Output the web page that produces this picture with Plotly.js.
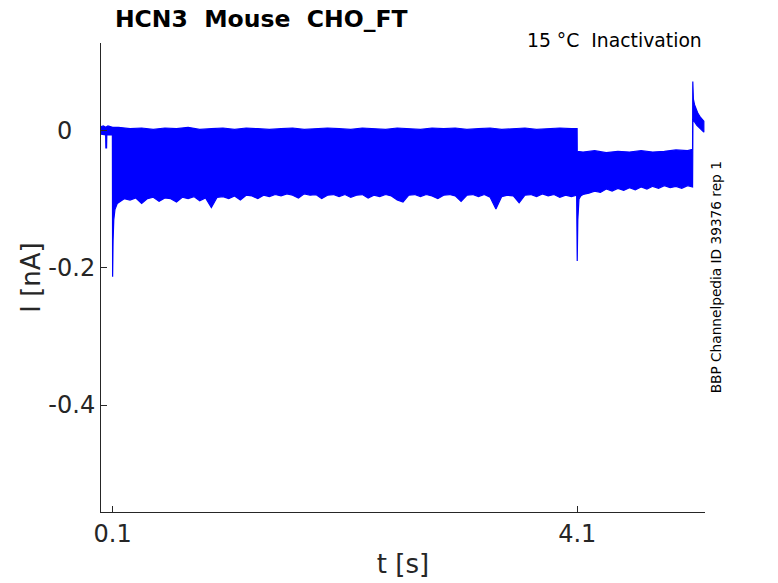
<!DOCTYPE html>
<html>
<head>
<meta charset="utf-8">
<script src="https://cdn.plot.ly/plotly-3.0.1.min.js"></script>
<style>
  html, body { margin: 0; padding: 0; background: #fff; }
  #plot { width: 778px; height: 583px; }
</style>
</head>
<body>
<div id="plot"></div>
<script>
    // --- DATA: envelope of all sweeps ---
    // upper edge of the sweep bundle (time in s, current in nA)
    const tUpper = [0.000, 0.020, 0.040, 0.060, 0.080, 0.100,
        0.15, 0.25, 0.35, 0.45, 0.55, 0.65, 0.75, 0.85, 0.95, 1.05,
        1.15, 1.25, 1.35, 1.45, 1.55, 1.65, 1.75, 1.85, 1.95, 2.05,
        2.15, 2.25, 2.35, 2.45, 2.55, 2.65, 2.75, 2.85, 2.95, 3.05,
        3.15, 3.25, 3.35, 3.45, 3.55, 3.65, 3.75, 3.85, 3.95, 4.05, 4.099,
        4.100, 4.15, 4.25, 4.35, 4.45, 4.55, 4.65, 4.75, 4.85, 4.95, 5.05, 5.093,
        5.095, 5.100, 5.110, 5.125, 5.140, 5.160, 5.180, 5.190];
    const iUpper = [0.006, 0.007, 0.005, 0.007, 0.006, 0.005,
        0.005, 0.003, 0.004, 0.002, 0.004, 0.003, 0.005, 0.002, 0.003, 0.004,
        0.002, 0.004, 0.003, 0.002, 0.003, 0.004, 0.002, 0.003, 0.004, 0.003,
        0.002, 0.004, 0.003, 0.002, 0.004, 0.003, 0.002, 0.004, 0.003, 0.004,
        0.002, 0.003, 0.004, 0.002, 0.003, 0.004, 0.002, 0.003, 0.004, 0.003, 0.003,
        -0.030, -0.031, -0.029, -0.032, -0.030, -0.031, -0.029, -0.031, -0.030, -0.028, -0.029, -0.027,
        0.072, 0.046, 0.038, 0.030, 0.025, 0.020, 0.016, 0.014];

    // lower edge of the sweep bundle
    const tLower = [0.000, 0.040, 0.042, 0.048, 0.050, 0.098,
        0.100, 0.104, 0.110, 0.120, 0.140,
        0.15, 0.20, 0.25, 0.30, 0.35, 0.40, 0.45, 0.50, 0.55, 0.60,
        0.65, 0.70, 0.75, 0.80, 0.85, 0.90, 0.95, 1.00, 1.05, 1.10,
        1.15, 1.20, 1.25, 1.30, 1.35, 1.40, 1.45, 1.50, 1.55, 1.60,
        1.65, 1.70, 1.75, 1.80, 1.85, 1.90, 1.95, 2.00, 2.05, 2.10,
        2.15, 2.20, 2.25, 2.30, 2.35, 2.40, 2.45, 2.50, 2.55, 2.60,
        2.65, 2.70, 2.75, 2.80, 2.85, 2.90, 2.95, 3.00, 3.05, 3.10,
        3.15, 3.20, 3.25, 3.30, 3.35, 3.40, 3.45, 3.50, 3.55, 3.60,
        3.65, 3.70, 3.75, 3.80, 3.85, 3.90, 3.95, 4.00, 4.05, 4.095,
        4.100, 4.105, 4.115, 4.130,
        4.15, 4.20, 4.25, 4.30, 4.35, 4.40, 4.45, 4.50, 4.55, 4.60,
        4.65, 4.70, 4.75, 4.80, 4.85, 4.90, 4.95, 5.00, 5.05, 5.093,
        5.096, 5.110, 5.130, 5.150, 5.170, 5.190];
    const iLower = [-0.005, -0.006, -0.025, -0.025, -0.006, -0.006,
        -0.213, -0.160, -0.130, -0.115, -0.106,
        -0.104, -0.099, -0.101, -0.098, -0.106, -0.099, -0.097, -0.103, -0.098, -0.099,
        -0.104, -0.097, -0.099, -0.096, -0.102, -0.098, -0.112, -0.097, -0.096, -0.099,
        -0.095, -0.101, -0.094, -0.095, -0.099, -0.094, -0.096, -0.093, -0.095, -0.092,
        -0.094, -0.098, -0.092, -0.094, -0.093, -0.099, -0.094, -0.093, -0.096, -0.093,
        -0.097, -0.094, -0.093, -0.098, -0.094, -0.096, -0.093, -0.095, -0.101, -0.104,
        -0.094, -0.093, -0.096, -0.093, -0.095, -0.099, -0.094, -0.093, -0.095, -0.103,
        -0.094, -0.093, -0.096, -0.093, -0.097, -0.114, -0.096, -0.094, -0.095, -0.105,
        -0.094, -0.093, -0.096, -0.092, -0.095, -0.093, -0.097, -0.094, -0.096, -0.094,
        -0.190, -0.130, -0.100, -0.095,
        -0.093, -0.091, -0.088, -0.090, -0.085, -0.088, -0.084, -0.087, -0.083, -0.086,
        -0.082, -0.085, -0.081, -0.084, -0.080, -0.083, -0.081, -0.084, -0.080, -0.082,
        0.016, 0.013, 0.008, 0.004, 0.001, -0.002];

    const xTicks = [0.1, 4.1];
    const yTicks = [-0.4, -0.2, 0];
    // the zero label sits left of the others in the original
    const yTickText = ['-0.4', '-0.2', '0\u00a0\u00a0\u00a0'];

    // --- STYLE ---
    const colors = {
        trace: '#0000FF',
        axis: '#262626',
        text: '#262626'
    };
    const FONT = 'DejaVu Sans, Liberation Sans, sans-serif';

    // closed outline: upper edge forward, lower edge backward
    const bandX = tUpper.concat(tLower.slice().reverse());
    const bandY = iUpper.concat(iLower.slice().reverse());

    const band = {
        type: 'scatter',
        mode: 'lines',
        x: bandX,
        y: bandY,
        fill: 'toself',
        fillcolor: colors.trace,
        line: { color: colors.trace, width: 1.2 },
        hoverinfo: 'skip'
    };

    const layout = {
        width: 778,
        height: 583,
        margin: { l: 101, r: 73, t: 43, b: 71 },
        paper_bgcolor: '#fff',
        plot_bgcolor: '#fff',
        showlegend: false,
        font: { family: FONT, color: colors.text },
        title: {
            text: '<b>HCN3\u00a0\u00a0Mouse\u00a0\u00a0CHO_FT</b>',
            font: { size: 23.5, color: '#000' },
            xref: 'paper', x: 0.023, xanchor: 'left',
            yref: 'container', y: 0.968, yanchor: 'middle'
        },
        xaxis: {
            range: [0, 5.2],
            tickvals: xTicks,
            ticktext: xTicks.map(String),
            ticks: 'inside', ticklen: 6, tickcolor: colors.axis,
            showline: true, linecolor: colors.axis, linewidth: 1,
            showgrid: false, zeroline: false,
            tickfont: { size: 24, color: colors.text },
            title: { text: 't [s]', font: { size: 26, color: colors.text }, standoff: 8 }
        },
        yaxis: {
            range: [-0.556, 0.128],
            tickvals: yTicks,
            ticktext: yTickText,
            ticks: 'inside', ticklen: 6, tickcolor: colors.axis,
            showline: true, linecolor: colors.axis, linewidth: 1,
            showgrid: false, zeroline: false,
            tickfont: { size: 24, color: colors.text },
            title: { text: 'I [nA]', font: { size: 26, color: colors.text }, standoff: 0 }
        },
        annotations: [
            {
                text: '15 °C\u00a0\u00a0Inactivation',
                xref: 'paper', yref: 'paper',
                x: 0.999, y: 1.006, xanchor: 'right', yanchor: 'middle',
                showarrow: false,
                font: { size: 18.8, color: '#000' }
            },
            {
                text: 'BBP Channelpedia ID 39376 rep 1',
                xref: 'paper', yref: 'paper',
                x: 1.018, y: 0.50, xanchor: 'center', yanchor: 'middle',
                textangle: -90,
                showarrow: false,
                font: { size: 13.7, color: '#000' }
            }
        ]
    };

    Plotly.newPlot('plot', [band], layout, { displayModeBar: false, staticPlot: true });
</script>
</body>
</html>
